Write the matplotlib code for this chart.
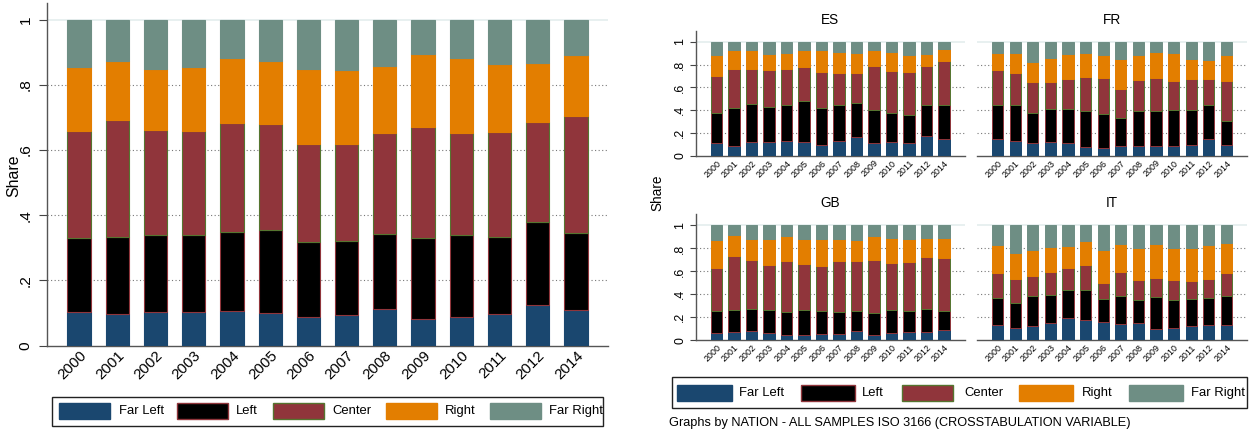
import numpy as np
import matplotlib.pyplot as plt
from matplotlib import font_manager
from matplotlib.patches import Rectangle

# Stata draws with a narrow Helvetica; use Liberation Sans Narrow if present
names = {f.name for f in font_manager.fontManager.ttflist}
if 'Liberation Sans Narrow' in names:
    plt.rcParams['font.family'] = ['Liberation Sans Narrow', 'DejaVu Sans']
    k = 1.0
else:
    plt.rcParams['font.family'] = ['Liberation Sans', 'DejaVu Sans']
    k = 0.85

years = ['2000', '2001', '2002', '2003', '2004', '2005', '2006', '2007',
         '2008', '2009', '2010', '2011', '2012', '2014']
groups = ['Far Left', 'Left', 'Center', 'Right', 'Far Right']

# cumulative tops of Far Left, Left, Center, Right (Far Right fills to 1)
all_fl = [0.102, 0.096, 0.102, 0.102, 0.107, 0.099, 0.088, 0.094, 0.113, 0.081, 0.088, 0.098, 0.126, 0.111]
all_l = [0.330, 0.333, 0.341, 0.338, 0.350, 0.355, 0.319, 0.320, 0.343, 0.331, 0.340, 0.333, 0.378, 0.347]
all_c = [0.657, 0.693, 0.662, 0.657, 0.682, 0.679, 0.617, 0.619, 0.651, 0.672, 0.653, 0.654, 0.685, 0.703]
all_r = [0.854, 0.874, 0.847, 0.856, 0.881, 0.873, 0.848, 0.846, 0.857, 0.894, 0.882, 0.864, 0.868, 0.892]

es_fl = [0.109, 0.088, 0.120, 0.123, 0.129, 0.117, 0.091, 0.132, 0.164, 0.109, 0.117, 0.109, 0.170, 0.144]
es_l = [0.378, 0.419, 0.452, 0.425, 0.449, 0.478, 0.422, 0.449, 0.460, 0.399, 0.375, 0.358, 0.443, 0.449]
es_c = [0.701, 0.760, 0.762, 0.751, 0.760, 0.777, 0.739, 0.730, 0.727, 0.789, 0.742, 0.736, 0.786, 0.833]
es_r = [0.886, 0.933, 0.933, 0.897, 0.903, 0.933, 0.927, 0.912, 0.900, 0.927, 0.909, 0.886, 0.897, 0.938]

fr_fl = [0.144, 0.129, 0.109, 0.120, 0.109, 0.079, 0.070, 0.082, 0.085, 0.082, 0.088, 0.091, 0.150, 0.091]
fr_l = [0.443, 0.443, 0.372, 0.408, 0.408, 0.393, 0.364, 0.331, 0.396, 0.390, 0.402, 0.402, 0.443, 0.302]
fr_c = [0.754, 0.730, 0.651, 0.648, 0.677, 0.695, 0.683, 0.589, 0.669, 0.686, 0.660, 0.677, 0.677, 0.657]
fr_r = [0.900, 0.903, 0.827, 0.862, 0.894, 0.900, 0.889, 0.850, 0.886, 0.912, 0.900, 0.848, 0.845, 0.886]

gb_fl = [0.061, 0.073, 0.085, 0.064, 0.050, 0.050, 0.053, 0.056, 0.079, 0.050, 0.064, 0.076, 0.070, 0.091]
gb_l = [0.257, 0.266, 0.275, 0.266, 0.246, 0.260, 0.251, 0.249, 0.254, 0.237, 0.266, 0.254, 0.272, 0.254]
gb_c = [0.629, 0.734, 0.702, 0.655, 0.693, 0.664, 0.646, 0.693, 0.690, 0.696, 0.673, 0.681, 0.728, 0.713]
gb_r = [0.871, 0.918, 0.883, 0.886, 0.906, 0.886, 0.880, 0.886, 0.871, 0.912, 0.895, 0.886, 0.889, 0.889]

it_fl = [0.132, 0.105, 0.126, 0.149, 0.193, 0.175, 0.158, 0.143, 0.152, 0.102, 0.108, 0.126, 0.132, 0.132]
it_l = [0.368, 0.322, 0.386, 0.392, 0.439, 0.442, 0.357, 0.383, 0.351, 0.377, 0.351, 0.357, 0.371, 0.389]
it_c = [0.588, 0.535, 0.556, 0.596, 0.629, 0.655, 0.503, 0.591, 0.523, 0.541, 0.523, 0.515, 0.538, 0.582]
it_r = [0.833, 0.763, 0.787, 0.813, 0.822, 0.863, 0.784, 0.836, 0.801, 0.836, 0.801, 0.807, 0.830, 0.848]

fills = ['#1a476f', '#000000', '#90353b', '#e37e00', '#6e8e84']
edges = ['#1a476f', '#90353b', '#55752f', '#e37e00', '#6e8e84']

W, H = 1249, 434
fig = plt.figure(figsize=(W / 100, H / 100), dpi=100)


def fx(x):
    return x / W


def fy(y):
    return 1 - y / H


def px_axes(left, top, right, bottom):
    return fig.add_axes([fx(left), fy(bottom), (right - left) / W, (bottom - top) / H])


def stacked(ax, fl, l, c, r, width, lw, ymax, xpad, tick_fs, rot_fs, show_y, ticklen, ypad):
    x = np.arange(len(years))
    tops = [np.array(fl), np.array(l), np.array(c), np.array(r), np.ones(len(years))]
    bottom = np.zeros(len(years))
    for top, fc, ec in zip(tops, fills, edges):
        ax.bar(x, top - bottom, width, bottom=bottom, color=fc, edgecolor=ec, linewidth=lw, zorder=3)
        bottom = top
    ax.set_xlim(-xpad, len(years) - 1 + xpad)
    ax.set_ylim(0, ymax)
    for yv in [0.2, 0.4, 0.6, 0.8]:
        ax.axhline(yv, color='#777777', linestyle=(0, (1, 2.2)), linewidth=0.8, zorder=1)
    ax.axhline(1.0, color='#e4eeee', linewidth=1.2, zorder=1)
    ax.set_xticks(x)
    ax.set_xticklabels(years, rotation=45, ha='right', va='top', rotation_mode='anchor', fontsize=rot_fs)
    ax.tick_params(axis='x', length=0, pad=2)
    ax.set_yticks([0, 0.2, 0.4, 0.6, 0.8, 1])
    if show_y:
        ax.set_yticklabels(['0', '.2', '.4', '.6', '.8', '1'], rotation=90, va='center', fontsize=tick_fs)
        ax.tick_params(axis='y', length=ticklen, width=0.8, color='#444444', pad=ypad)
    else:
        ax.tick_params(axis='y', left=False, labelleft=False)
        ax.spines['left'].set_visible(False)
    for s in ['top', 'right']:
        ax.spines[s].set_visible(False)
    for s in ['bottom', 'left']:
        ax.spines[s].set_color('#555555')
        ax.spines[s].set_linewidth(1.0)


def draw_legend(box, swatches, text_x, sw_top, sw_bot, fs):
    x0, y0, x1, y1 = box
    fig.add_artist(Rectangle((fx(x0), fy(y1)), (x1 - x0) / W, (y1 - y0) / H,
                             transform=fig.transFigure, facecolor='white',
                             edgecolor='#222222', linewidth=1.0))
    for (sx0, sx1), tx, name, fc, ec in zip(swatches, text_x, groups, fills, edges):
        fig.add_artist(Rectangle((fx(sx0), fy(sw_bot)), (sx1 - sx0) / W, (sw_bot - sw_top) / H,
                                 transform=fig.transFigure, facecolor=fc,
                                 edgecolor=ec, linewidth=1.0))
        fig.text(fx(tx), fy((sw_top + sw_bot) / 2), name, ha='left', va='center', fontsize=fs)


# Main chart
ax = px_axes(47, 3.3, 608, 345.7)
stacked(ax, all_fl, all_l, all_c, all_r, 0.61, 0.8, 1.05, 0.84, 13 * k, 12.8 * k, True, 6, 4.5)
fig.text(fx(14), fy(176), 'Share', rotation=90, ha='center', va='center', fontsize=13.5 * k)

draw_legend((52.3, 396.7, 603.3, 426),
            [(59, 110.3), (176.7, 227.7), (273.3, 324), (385.7, 436.7), (490.3, 541.3)],
            [118.7, 235.7, 332.7, 445, 549.3], 403.3, 419.3, 11 * k)

# Panels by nation
panels = [
    ('ES', es_fl, es_l, es_c, es_r, (696, 30.6, 964.5, 155.7), True),
    ('FR', fr_fl, fr_l, fr_c, fr_r, (977, 30.6, 1247, 155.7), False),
    ('GB', gb_fl, gb_l, gb_c, gb_r, (696, 214, 964.5, 340.3), True),
    ('IT', it_fl, it_l, it_c, it_r, (977, 214, 1247, 340.3), False),
]
for name, fl, l, c, r, box, show_y in panels:
    pax = px_axes(*box)
    stacked(pax, fl, l, c, r, 0.64, 0.7, 1.1, 1.17, 10.5 * k, 7.5 * k, show_y, 4, 3)
    pax.set_title(name, fontsize=11.5 * k, pad=5)

fig.text(fx(657), fy(193), 'Share', rotation=90, ha='center', va='center', fontsize=11.5 * k)

draw_legend((672, 377, 1247, 408),
            [(677, 732), (801, 855), (902, 953), (1019, 1073), (1129, 1183)],
            [739, 862, 964, 1082, 1191], 385, 401, 11 * k)

fig.text(fx(669), fy(423), 'Graphs by NATION - ALL SAMPLES ISO 3166 (CROSSTABULATION VARIABLE)',
         ha='left', va='center', fontsize=10.8 * k)

fig.savefig('out.png', dpi=100)
